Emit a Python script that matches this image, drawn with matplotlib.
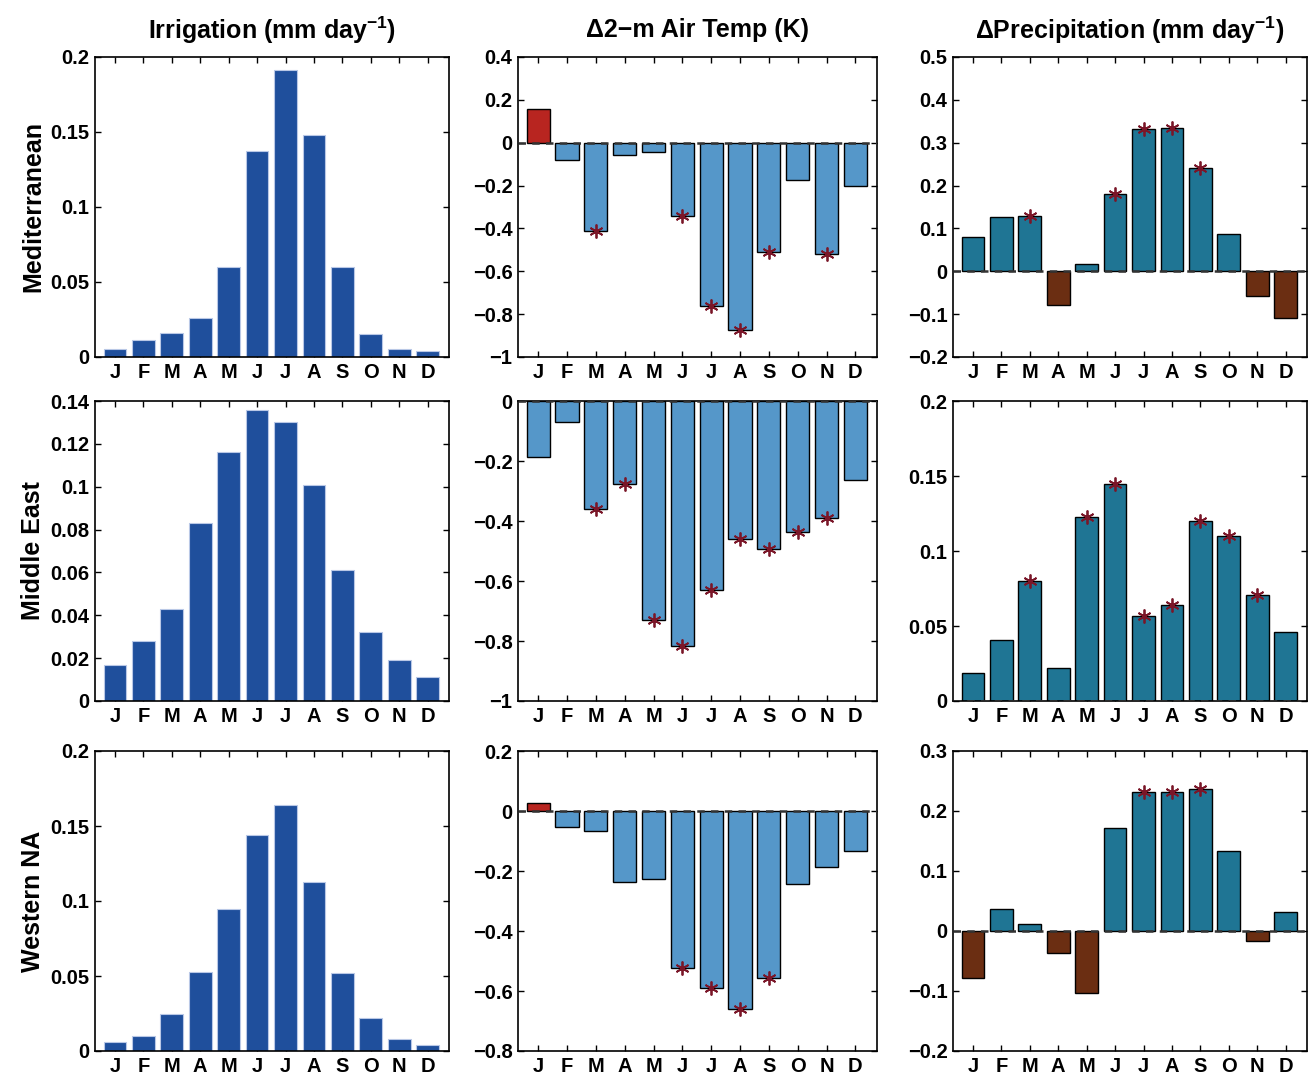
import matplotlib.pyplot as plt
import numpy as np
from matplotlib.ticker import FuncFormatter

plt.rcParams['font.family'] = ['Liberation Sans', 'DejaVu Sans']
plt.rcParams['font.weight'] = 'bold'
plt.rcParams['mathtext.fontset'] = 'custom'
plt.rcParams['mathtext.rm'] = 'Liberation Sans:bold'
plt.rcParams['mathtext.bf'] = 'Liberation Sans:bold'
plt.rcParams['mathtext.default'] = 'bf'

months = ['J', 'F', 'M', 'A', 'M', 'J', 'J', 'A', 'S', 'O', 'N', 'D']
regions = ['Mediterranean', 'Middle East', 'Western NA']

# irrigation (mm/day)
irr_med = [0.005, 0.011, 0.016, 0.026, 0.060, 0.137, 0.191, 0.148, 0.060, 0.015, 0.005, 0.004]
irr_me = [0.017, 0.028, 0.043, 0.083, 0.116, 0.136, 0.130, 0.101, 0.061, 0.032, 0.019, 0.011]
irr_wna = [0.006, 0.010, 0.025, 0.053, 0.095, 0.144, 0.164, 0.113, 0.052, 0.022, 0.008, 0.004]

# 2-m air temperature change (K)
t2m_med = [0.156, -0.082, -0.412, -0.056, -0.045, -0.344, -0.764, -0.876, -0.509, -0.173, -0.521, -0.202]
t2m_me = [-0.186, -0.070, -0.359, -0.277, -0.730, -0.817, -0.629, -0.460, -0.492, -0.436, -0.389, -0.263]
t2m_wna = [0.028, -0.053, -0.067, -0.238, -0.226, -0.522, -0.589, -0.659, -0.558, -0.244, -0.187, -0.134]

# precipitation change (mm/day)
pr_med = [0.079, 0.126, 0.129, -0.078, 0.016, 0.181, 0.331, 0.334, 0.240, 0.086, -0.057, -0.110]
pr_me = [0.019, 0.041, 0.080, 0.022, 0.123, 0.145, 0.057, 0.064, 0.120, 0.110, 0.071, 0.046]
pr_wna = [-0.079, 0.037, 0.011, -0.037, -0.103, 0.171, 0.231, 0.232, 0.237, 0.134, -0.017, 0.031]

# significant months (marked with asterisk)
sig_t2m_med = [0, 0, 1, 0, 0, 1, 1, 1, 1, 0, 1, 0]
sig_t2m_me = [0, 0, 1, 1, 1, 1, 1, 1, 1, 1, 1, 0]
sig_t2m_wna = [0, 0, 0, 0, 0, 1, 1, 1, 1, 0, 0, 0]
sig_pr_med = [0, 0, 1, 0, 0, 1, 1, 1, 1, 0, 0, 0]
sig_pr_me = [0, 0, 1, 0, 1, 1, 1, 1, 1, 1, 1, 0]
sig_pr_wna = [0, 0, 0, 0, 0, 0, 1, 1, 1, 0, 0, 0]

irr = [irr_med, irr_me, irr_wna]
t2m = [t2m_med, t2m_me, t2m_wna]
pr = [pr_med, pr_me, pr_wna]
sig_t2m = [sig_t2m_med, sig_t2m_me, sig_t2m_wna]
sig_pr = [sig_pr_med, sig_pr_me, sig_pr_wna]

irr_ylim = [(0, 0.2, 0.05), (0, 0.14, 0.02), (0, 0.2, 0.05)]
t2m_ylim = [(-1, 0.4, 0.2), (-1, 0.0, 0.2), (-0.8, 0.2, 0.2)]
pr_ylim = [(-0.2, 0.5, 0.1), (0, 0.2, 0.05), (-0.2, 0.3, 0.1)]

titles = ['Irrigation (mm day$^{-1}$)', '\u03942\u2212m Air Temp (K)',
          '\u0394Precipitation (mm day$^{-1}$)']

c_irr = '#1f4f9c'
c_tblue = '#5597c9'
c_tred = '#b82520'
c_pteal = '#1f7594'
c_pbrown = '#6b2e12'
c_star = '#7a1628'

W, H = 1310, 1079
fig = plt.figure(figsize=(W / 100, H / 100), dpi=100)

col_left = [95, 518, 953]
col_w = [354, 359, 354]
row_top = [57, 401, 751]
row_h = 300

x = np.arange(1, 13)


def tick_fmt(v, p):
    v = round(v, 4) + 0.0
    return ('%g' % v).replace('-', '\u2212')


fmt = FuncFormatter(tick_fmt)


def style_axes(ax, lims):
    lo, hi, step = lims
    ax.set_xlim(0.3, 12.75)
    ax.set_ylim(lo, hi)
    ax.set_yticks(np.arange(lo, hi + step / 2, step))
    ax.yaxis.set_major_formatter(fmt)
    ax.set_xticks(x)
    ax.set_xticklabels(months)
    ax.tick_params(direction='in', top=True, right=True, length=4, width=1,
                   labelsize=14.5, pad=4)
    for lab in ax.get_xticklabels() + ax.get_yticklabels():
        lab.set_fontweight('bold')
    for s in ax.spines.values():
        s.set_linewidth(1.2)


def diff_panel(ax, vals, sig, cpos, cneg, lims):
    vals = np.array(vals)
    cols = [cpos if v >= 0 else cneg for v in vals]
    ax.bar(x, vals, width=0.8, color=cols, edgecolor='black', linewidth=1.0, zorder=2)
    ax.axhline(0, color='#333333', ls='--', lw=1.8, dashes=(3, 2.5), zorder=3)
    s = np.array(sig, dtype=bool)
    ax.plot(x[s], vals[s], ls='none', marker=(6, 2, 0), ms=10, mew=1.3,
            color=c_star, zorder=4)
    style_axes(ax, lims)


for r in range(3):
    top = row_top[r]
    axs = []
    for c in range(3):
        ax = fig.add_axes([col_left[c] / W, 1 - (top + row_h) / H, col_w[c] / W, row_h / H])
        axs.append(ax)

    axs[0].bar(x, irr[r], width=0.8, color=c_irr, edgecolor='#b9c8e6', linewidth=0.8, zorder=2)
    style_axes(axs[0], irr_ylim[r])

    diff_panel(axs[1], t2m[r], sig_t2m[r], c_tred, c_tblue, t2m_ylim[r])
    diff_panel(axs[2], pr[r], sig_pr[r], c_pteal, c_pbrown, pr_ylim[r])

    fig.text(33 / W, 1 - (top + row_h / 2) / H, regions[r], rotation=90,
             ha='center', va='center', fontsize=18, fontweight='bold')

    if r == 0:
        for c in range(3):
            axs[c].text(0.5, 1 + 27 / row_h, titles[c], transform=axs[c].transAxes,
                        ha='center', va='center', fontsize=18, fontweight='bold')

fig.savefig('out.png', dpi=100)
